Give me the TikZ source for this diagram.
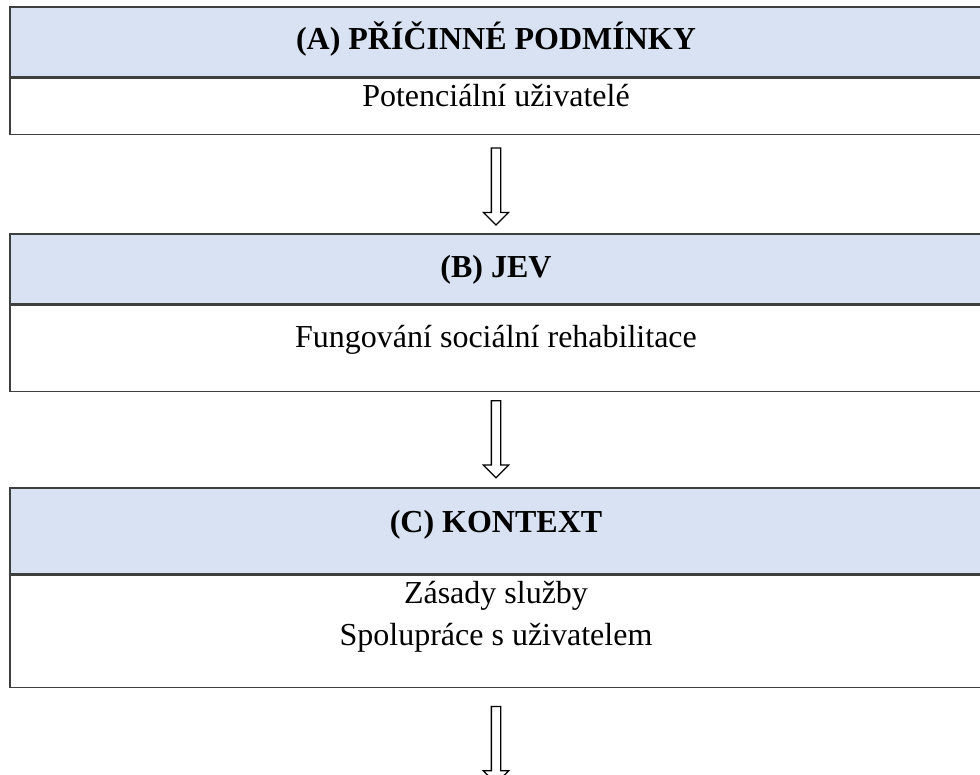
\documentclass[tikz,border=0pt]{standalone}
\usepackage{fontspec}
\setmainfont{Liberation Serif}
\usetikzlibrary{positioning,shapes.arrows}

\definecolor{headblue}{HTML}{D9E2F3}
\definecolor{rulegray}{HTML}{3F3F3F}

\tikzset{
  headbox/.style={draw=rulegray, line width=1.5pt, fill=headblue,
    minimum width=972pt, inner sep=0pt},
  bodybox/.style={draw=rulegray, line width=1.5pt, fill=white,
    minimum width=972pt, inner sep=0pt},
  headtext/.style={anchor=base, inner sep=0pt, font=\fontsize{32}{38}\selectfont\bfseries},
  bodytext/.style={anchor=base, inner sep=0pt, font=\fontsize{32}{38}\selectfont},
  flowarrow/.style={single arrow, draw=black, line width=1.3pt, fill=white,
    rotate=-90, minimum height=77pt, inner sep=4pt,
    single arrow head extend=8pt, single arrow head indent=0pt}
}

\begin{document}
\begin{tikzpicture}[x=1pt, y=-1pt]
    \useasboundingbox (0,0) rectangle (980,775);

    % boxes
    \node[headbox, minimum height=70pt] (headA) at (496,42) {};
    \node[bodybox, minimum height=56pt, below=0pt of headA] (bodyA) {};

    \node[headbox, minimum height=70pt] (headB) at (496,269) {};
    \node[bodybox, minimum height=86pt, below=0pt of headB] (bodyB) {};

    \node[headbox, minimum height=86pt] (headC) at (496,531) {};
    \node[bodybox, minimum height=112pt, below=0pt of headC] (bodyC) {};

    \coordinate (tail) at (496,797);

    % texts
    \node[headtext] (titleA) at ([yshift=-43pt]headA.north) {(A) PŘÍČINNÉ PODMÍNKY};
    \node[bodytext] (textA) at ([yshift=-29pt]bodyA.north) {Potenciální uživatelé};

    \node[headtext] (titleB) at ([yshift=-44pt]headB.north) {(B) JEV};
    \node[bodytext] (textB) at ([yshift=-43pt]bodyB.north) {Fungování sociální rehabilitace};

    \node[headtext] (titleC) at ([yshift=-45pt]headC.north) {(C) KONTEXT};
    \node[bodytext] (textC1) at ([yshift=-29pt]bodyC.north) {Zásady služby};
    \node[bodytext] (textC2) at ([yshift=-71pt]bodyC.north) {Spolupráce s uživatelem};

    % arrows
    \path (bodyA.south) -- node[flowarrow] (arrAB) {} (headB.north);
    \path (bodyB.south) -- node[flowarrow, pos=0.47] (arrBC) {} (headC.north);
    \path (bodyC.south) -- node[flowarrow] (arrC) {} (tail);
\end{tikzpicture}
\end{document}
